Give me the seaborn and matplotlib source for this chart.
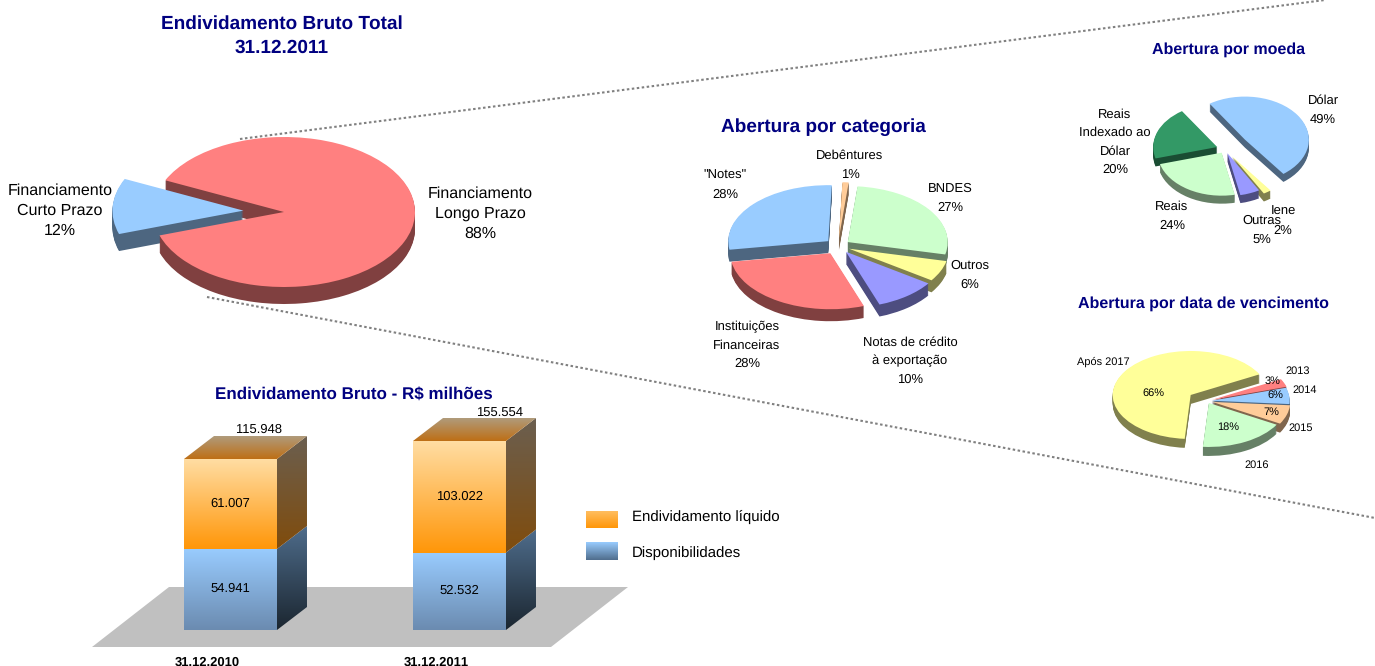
#!/usr/bin/env python3
import matplotlib
matplotlib.use('Agg')
import matplotlib.pyplot as plt
from matplotlib.colors import LinearSegmentedColormap
from matplotlib.patches import Polygon
import numpy as np
import seaborn as sns

# Dados
total_labels = ['Financiamento\nCurto Prazo\n12%', 'Financiamento\nLongo Prazo\n88%']
total_values = [12, 88]

categoria_values = [28, 28, 10, 6, 27, 1]
moeda_values = [49, 20, 24, 5, 2]
vencimento_values = [66, 18, 7, 6, 3]

datas = ['31.12.2010', '31.12.2011']
disponibilidades = [54941, 52532]
endividamento_liquido = [61007, 103022]
endividamento_total = [115948, 155554]

# Cores
RED, BLUE, GREEN, YELLOW = '#FF8080', '#99CCFF', '#CCFFCC', '#FFFF99'
VIOLET, PEACH, SEA = '#9999FF', '#FFCC99', '#339966'
NAVY = '#000080'
W, H = 1375, 666

sns.set_theme(style='white')
plt.rcParams['font.family'] = ['Liberation Sans', 'DejaVu Sans']
plt.rcParams['text.hinting'] = 'no_hinting'
plt.rcParams['text.hinting_factor'] = 1

fig = plt.figure(figsize=(W / 100, H / 100), dpi=100, facecolor='white')


def overlay(zorder):
    ax = fig.add_axes([0, 0, 1, 1], zorder=zorder)
    ax.set_xlim(0, W)
    ax.set_ylim(H, 0)
    ax.axis('off')
    return ax


bg = overlay(2)
top = overlay(5)


def darker(c):
    rgb = np.array(matplotlib.colors.to_rgb(c))
    return tuple(rgb * 0.5)


def pie3d(values, colors, cx, cy, rx, ry, depth, start, explode):
    L = 1.7
    ax = fig.add_axes([(cx - L * rx) / W, 1 - (cy + L * ry) / H, 2 * L * rx / W, 2 * L * ry / H], zorder=3)
    ax.patch.set_alpha(0)
    darks = [darker(c) for c in colors]
    # parede lateral: copias escuras empilhadas
    for k in np.arange(depth, 0, -1):
        ax.pie(values, colors=darks, center=(0, -k / ry), startangle=start, explode=explode,
               wedgeprops=dict(linewidth=0.5, edgecolor='none'))
    ax.pie(values, colors=colors, startangle=start, explode=explode,
           wedgeprops=dict(linewidth=0))
    ax.set_aspect('auto')
    ax.set_xlim(-L, L)
    ax.set_ylim(-L, L)
    return ax


def gradient(verts, c_top, c_bottom, zorder=3):
    verts = np.array(verts, dtype=float)
    cmap = LinearSegmentedColormap.from_list('g', [c_top, c_bottom])
    poly = Polygon(verts, closed=True, transform=bg.transData, facecolor='none', edgecolor='none')
    bg.add_patch(poly)
    extent = (verts[:, 0].min(), verts[:, 0].max(), verts[:, 1].max(), verts[:, 1].min())
    im = bg.imshow(np.linspace(0, 1, 256)[:, None], cmap=cmap, extent=extent, aspect='auto',
                   origin='upper', interpolation='bilinear', zorder=zorder)
    im.set_clip_path(poly)
    bg.set_xlim(0, W)
    bg.set_ylim(H, 0)


# Linhas pontilhadas
bg.plot([240, 1325], [139, 0], color='#808080', lw=1.5, ls=(0, (1.2, 1.2)), zorder=1)
bg.plot([207, 1375], [297, 518], color='#808080', lw=1.5, ls=(0, (1.2, 1.2)), zorder=1)

# Pizzas
pie3d(total_values, [BLUE, RED], 284, 212, 131, 75, 17, 155, [0.31, 0])
pie3d(categoria_values, [BLUE, RED, VIOLET, YELLOW, GREEN, PEACH], 838, 246, 100, 56, 12, 88,
      [0.13, 0.15, 0.13, 0.12, 0.12, 0.14])
pie3d(moeda_values, [BLUE, SEA, GREEN, VIOLET, YELLOW], 1225, 149, 64, 43, 8, -53,
      [0.38, 0.13, 0.1, 0.1, 0.2])
pie3d(vencimento_values, [YELLOW, GREEN, PEACH, BLUE, RED], 1207, 401, 78, 44, 9, 28,
      [0.25, 0.05, 0.07, 0.06, 0.07])

# Barras: escala com trecho comprimido acima do primeiro total
bp_x = [0, 115948, 155554, 400000]
bp_y = [0, 171, 189, 189 + 244446 * 18 / 39606]
ax_bar = fig.add_axes([116 / W, 1 - 630 / H, 458 / W, 189 / H], zorder=1)
ax_bar.set_yscale('function', functions=(lambda v: np.interp(v, bp_x, bp_y),
                                         lambda v: np.interp(v, bp_y, bp_x)))
sns.barplot(x=datas, y=endividamento_total, color='#FF9A10', width=0.406, saturation=1, ax=ax_bar)
sns.barplot(x=datas, y=disponibilidades, color='#6B8BB0', width=0.406, saturation=1, ax=ax_bar)
ax_bar.set_xlim(-0.5, 1.5)
ax_bar.set_ylim(0, endividamento_total[1])
ax_bar.axis('off')
fig.canvas.draw()

# Piso
bg.add_patch(Polygon([(92, 647), (551, 647), (628, 587), (169, 587)], closed=True,
                     facecolor='#C0C0C0', edgecolor='none', zorder=2))

DX, DY = 30, 23
total_dx = [28, 40]
total_dy = [29, 27]
patches = ax_bar.patches
for i in range(2):
    tot = patches[i].get_window_extent()
    dis = patches[i + 2].get_window_extent()
    x0, x1 = tot.x0, tot.x1
    y_top, y_mid, y_base = H - tot.y1, H - dis.y1, H - dis.y0
    # face frontal
    gradient([(x0, y_mid), (x1, y_mid), (x1, y_base), (x0, y_base)], '#99CCFF', '#6B8BB0')
    gradient([(x0, y_top), (x1, y_top), (x1, y_mid), (x0, y_mid)], '#FFDDA3', '#FF9608')
    # lateral
    gradient([(x1, y_mid), (x1 + DX, y_mid - DY), (x1 + DX, y_base - DY), (x1, y_base)], '#4F6D8C', '#1B2630')
    gradient([(x1, y_top), (x1 + DX, y_top - DY), (x1 + DX, y_mid - DY), (x1, y_mid)], '#6B5F50', '#804C0C')
    # topo
    gradient([(x0, y_top), (x0 + DX, y_top - DY), (x1 + DX, y_top - DY), (x1, y_top)], '#B09B7C', '#BE6F15')
    xc = (x0 + x1) / 2
    fmt = lambda v: f'{v:,}'.replace(',', '.')
    top.text(xc, (y_mid + y_base) / 2 - 1, fmt(disponibilidades[i]), ha='center', va='center', fontsize=9.5, color='black')
    top.text(xc, (y_top + y_mid) / 2, fmt(endividamento_liquido[i]), ha='center', va='center', fontsize=9.5, color='black')
    top.text(xc + total_dx[i], y_top - total_dy[i], fmt(endividamento_total[i]), ha='center', va='center', fontsize=9.5, color='black')
    top.text(xc - 23.5, 662, datas[i], ha='center', va='center', fontsize=9, fontweight='bold', color='black')

# Legenda
gradient([(586, 511), (618, 511), (618, 528), (586, 528)], '#FFBE60', '#FF9608', zorder=4)
gradient([(586, 542), (618, 542), (618, 560), (586, 560)], '#99CCFF', '#4F6D8C', zorder=4)
top.text(632, 517, 'Endividamento líquido', ha='left', va='center', fontsize=10.5, color='black')
top.text(632, 553, 'Disponibilidades', ha='left', va='center', fontsize=10.5, color='black')

# Titulos
top.text(282, 35.5, 'Endividamento Bruto Total\n31.12.2011', ha='center', va='center', fontsize=13.5, fontweight='bold',
         color=NAVY, linespacing=1.45)
top.text(823, 127, 'Abertura por categoria', ha='center', va='center', fontsize=13.8, fontweight='bold', color=NAVY)
top.text(1229, 49.5, 'Abertura por moeda', ha='center', va='center', fontsize=11.2, fontweight='bold', color=NAVY)
top.text(1203, 303.5, 'Abertura por data de vencimento', ha='center', va='center', fontsize=11.2, fontweight='bold', color=NAVY)
top.text(354, 394, 'Endividamento Bruto - R$ milhões', ha='center', va='center', fontsize=12.3, fontweight='bold', color=NAVY)

# Rotulos das pizzas
top.text(60, 211, total_labels[0], ha='center', va='center', fontsize=11.2, color='black', linespacing=1.45)
top.text(480, 214, total_labels[1], ha='center', va='center', fontsize=11.2, color='black', linespacing=1.45)

small = [('Debêntures\n1%', 850, 165), ('"Notes"\n28%', 725, 185), ('BNDES\n27%', 950, 198), ('Outros\n6%', 970, 275),
         ('Instituições\nFinanceiras\n28%', 747, 345), ('Notas de crédito\nà exportação\n10%', 910, 361),
         ('Dólar\n49%', 1323, 110), ('Reais\nIndexado ao\nDólar\n20%', 1115, 142), ('Reais\n24%', 1172, 216),
         ('Outras\n5%', 1262, 230), ('Iene\n2%', 1283, 221)]
for txt, x, y in small:
    top.text(x, y, txt, ha='center', va='center', fontsize=9, color='black', linespacing=1.65)

tiny = [('Após 2017', 1103, 362), ('2013', 1298, 371), ('2014', 1305, 390), ('2015', 1301, 428), ('2016', 1257, 465),
        ('66%', 1153, 393), ('3%', 1273, 381), ('6%', 1275, 395), ('7%', 1271, 412), ('18%', 1228, 427)]
for txt, x, y in tiny:
    top.text(x, y, txt, ha='center', va='center', fontsize=8, color='black')

fig.savefig('out.png', dpi=100)
